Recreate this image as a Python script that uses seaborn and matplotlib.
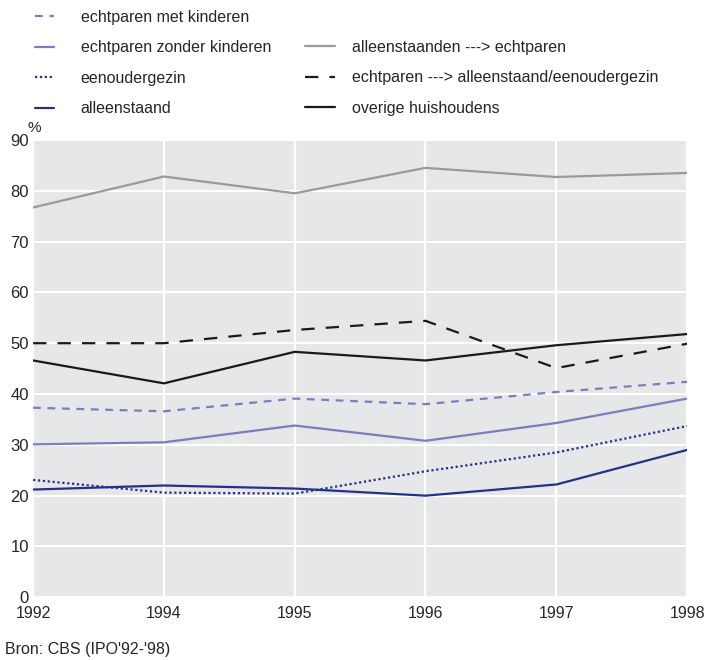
import pandas as pd
import matplotlib.pyplot as plt
import seaborn as sns
from matplotlib.lines import Line2D

# Data
years = ["1992", "1994", "1995", "1996", "1997", "1998"]
met_kinderen = [37.3, 36.6, 39.1, 38.0, 40.4, 42.4]
zonder_kinderen = [30.1, 30.5, 33.8, 30.8, 34.3, 39.1]
eenoudergezin = [23.1, 20.6, 20.4, 24.8, 28.5, 33.7]
alleenstaand = [21.2, 22.0, 21.4, 20.0, 22.2, 29.0]
alleen_naar_echt = [76.7, 82.8, 79.5, 84.5, 82.7, 83.5]
echt_naar_alleen = [50.0, 50.0, 52.6, 54.4, 45.1, 49.9]
overige = [46.6, 42.1, 48.3, 46.6, 49.6, 51.8]

labels = [
    "echtparen met kinderen",
    "echtparen zonder kinderen",
    "eenoudergezin",
    "alleenstaand",
    "alleenstaanden ---> echtparen",
    "echtparen ---> alleenstaand/eenoudergezin",
    "overige huishoudens",
]
values = [met_kinderen, zonder_kinderen, eenoudergezin, alleenstaand,
          alleen_naar_echt, echt_naar_alleen, overige]

light = "#7b7dbf"
dark = "#23318a"
styles = {
    labels[0]: dict(color=light, dashes=(3.5, 3)),
    labels[1]: dict(color=light, dashes=None),
    labels[2]: dict(color=dark, dashes=(1, 1.2)),
    labels[3]: dict(color=dark, dashes=None),
    labels[4]: dict(color="#9a9a9a", dashes=None),
    labels[5]: dict(color="#1a1a1a", dashes=(6, 5)),
    labels[6]: dict(color="#1a1a1a", dashes=None),
}

df = pd.DataFrame([
    {"jaar": y, "serie": lab, "waarde": v}
    for lab, vals in zip(labels, values)
    for y, v in zip(years, vals)
])

sns.set_style("white")
plt.rcParams["font.family"] = ["Liberation Sans", "DejaVu Sans"]

fig = plt.figure(figsize=(7.04, 6.6), dpi=100)
ax = fig.add_axes([0.047, 0.095, 0.929, 0.693])
ax.set_facecolor("#e6e7e8")

handles = {}
for lab in labels:
    st = styles[lab]
    sub = df[df["serie"] == lab]
    sns.lineplot(data=sub, x="jaar", y="waarde", ax=ax, color=st["color"],
                 linewidth=1.6, legend=False)
    line = ax.lines[-1]
    if st["dashes"]:
        line.set_dashes(st["dashes"])
    handles[lab] = Line2D([], [], color=st["color"], linewidth=1.6,
                          dashes=st["dashes"] if st["dashes"] else (None, None))

ax.set_xlim(0, 5)
ax.set_ylim(0, 90)
ax.set_yticks(range(0, 91, 10))
ax.grid(True, color="white", linewidth=1.5)
ax.set_axisbelow(True)
for s in ax.spines.values():
    s.set_visible(False)
ax.tick_params(axis="y", length=0, labelsize=12, pad=3)
ax.tick_params(axis="x", length=0, labelsize=11.5, pad=6)
ax.set_xlabel("")
ax.set_ylabel("")
fig.text(28 / 704, 1 - 135 / 660, "%", fontsize=11, va="bottom", ha="left")

leg_kw = dict(frameon=False, fontsize=11.5, labelspacing=0.97,
              loc="upper left", borderpad=0, borderaxespad=0)
leg1 = fig.legend([handles[l] for l in labels[:4]], labels[:4],
                  bbox_to_anchor=(35 / 704, 1 - 10 / 660),
                  handlelength=1.2, handletextpad=1.65, **leg_kw)
leg2 = fig.legend([handles[l] for l in labels[4:]], labels[4:],
                  bbox_to_anchor=(305 / 704, 1 - 40 / 660),
                  handlelength=1.9, handletextpad=1.05, **leg_kw)

fig.text(5 / 704, 0.004, "Bron: CBS (IPO'92-'98)", fontsize=11.5, ha="left", va="bottom")

fig.savefig("out.png", dpi=100, facecolor="white")
